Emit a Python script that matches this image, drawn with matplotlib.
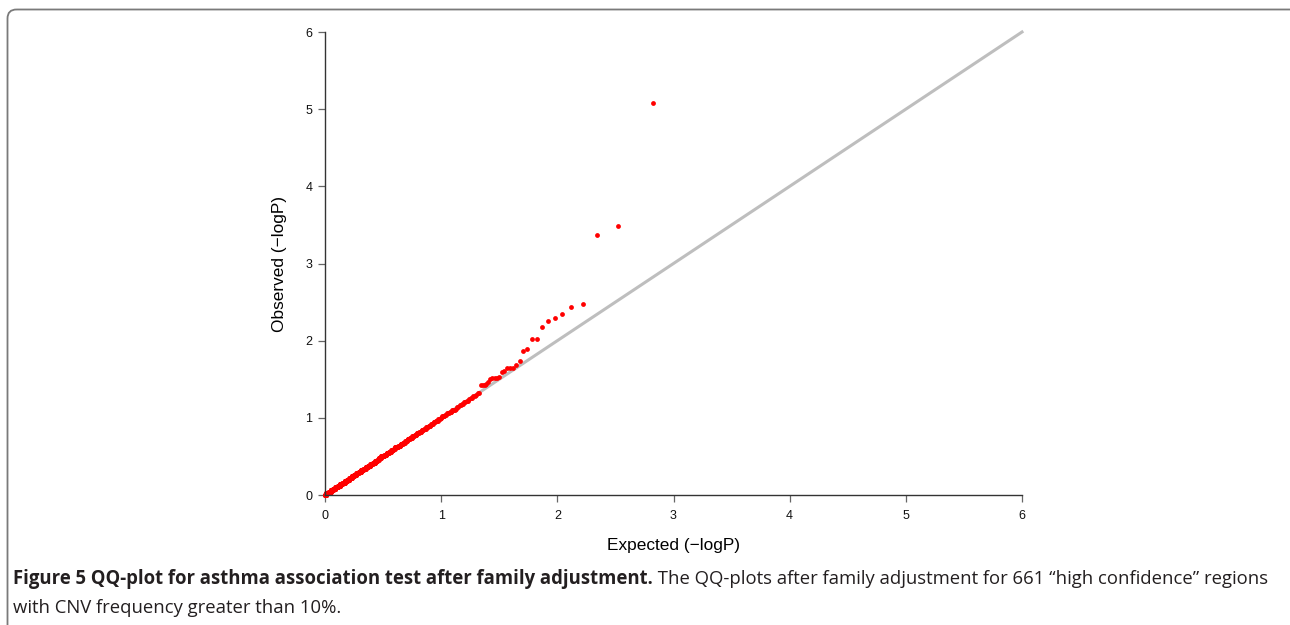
import numpy as np
import matplotlib
matplotlib.use("Agg")
import matplotlib.pyplot as plt
from matplotlib.patches import FancyBboxPatch

# upper tail of the observed -log10(P), ranks 1..30 (largest first)
tail_obs = [5.08, 3.48, 3.37, 2.48, 2.43, 2.35, 2.30, 2.25, 2.18, 2.02,
            2.02, 1.89, 1.87, 1.74, 1.69, 1.65, 1.65, 1.65, 1.61, 1.59,
            1.53, 1.52, 1.51, 1.51, 1.50, 1.46, 1.44, 1.43, 1.42, 1.42]

# bulk of the observed values, binned to 0.02 (value, number of regions)
bulk_levels = [1.32, 1.30, 1.28, 1.26, 1.24, 1.22, 1.20, 1.18, 1.16, 1.14,
               1.12, 1.10, 1.08, 1.06, 1.04, 1.02, 1.00, 0.98, 0.96, 0.94,
               0.92, 0.90, 0.88, 0.86, 0.84, 0.82, 0.80, 0.78, 0.76, 0.74,
               0.72, 0.70, 0.68, 0.66, 0.64, 0.62, 0.60, 0.58, 0.56, 0.54,
               0.52, 0.50, 0.48, 0.46, 0.44, 0.42, 0.40, 0.38, 0.36, 0.34,
               0.32, 0.30, 0.28, 0.26, 0.24, 0.22, 0.20, 0.18, 0.16, 0.14,
               0.12, 0.10, 0.08, 0.06, 0.04, 0.02, 0.00]
bulk_counts = [2, 1, 2, 2, 1, 2, 2, 2, 2, 2,
               1, 4, 3, 3, 2, 4, 2, 3, 4, 3,
               4, 4, 4, 4, 4, 5, 5, 5, 5, 6,
               6, 6, 6, 7, 7, 10, 5, 8, 8, 9,
               9, 14, 10, 6, 11, 12, 12, 13, 13, 14,
               15, 15, 16, 17, 17, 19, 19, 20, 21, 22,
               23, 25, 25, 27, 27, 29, 15]

x_ticks = [0, 1, 2, 3, 4, 5, 6]
y_ticks = [0, 1, 2, 3, 4, 5, 6]

caption_bold = "Figure 5 QQ-plot for asthma association test after family adjustment."
caption_rest = (" The QQ-plots after family adjustment for 661 \u201chigh confidence\u201d regions",
                "with CNV frequency greater than 10%.")

observed = np.concatenate([tail_obs, np.repeat(bulk_levels, bulk_counts)])
n = len(observed)
rank = np.arange(1, n + 1)
expected = -np.log10(rank / (n + 1))

W, H = 1290, 625
fig = plt.figure(figsize=(W / 100, H / 100), dpi=100)

# page layer in pixel units: framed box and caption
bg = fig.add_axes([0, 0, 1, 1], zorder=0)
bg.set_xlim(0, W)
bg.set_ylim(H, 0)
bg.axis("off")
bg.add_patch(FancyBboxPatch((7.5, 9.5), W + 20, H + 40,
                            boxstyle="round,pad=0,rounding_size=9",
                            fc="none", ec="#7a7a7a", lw=1.3))

cap_font = ["Open Sans", "DejaVu Sans"]
cap_col = "#231f20"
x0, line_w = 13, 1251
t1 = bg.text(x0, 579, caption_bold, fontsize=12, fontweight="bold",
             family=cap_font, va="center", ha="left", color=cap_col)
t2 = bg.text(x0, 579, caption_rest[0], fontsize=12,
             family=cap_font, va="center", ha="left", color=cap_col)
t3 = bg.text(x0, 608, caption_rest[1], fontsize=12, family=cap_font,
             va="center", ha="left", color=cap_col)

# size the caption so the first line fills the text column
fig.canvas.draw()
r = fig.canvas.get_renderer()
w12 = t1.get_window_extent(r).width + t2.get_window_extent(r).width
size = 12 * line_w / w12
for t in (t1, t2, t3):
    t.set_fontsize(size)
fig.canvas.draw()
t2.set_x(x0 + t1.get_window_extent(r).width)

# QQ plot
left, right, top, bottom = 325, 1022, 32, 495
ax = fig.add_axes([left / W, 1 - bottom / H, (right - left) / W, (bottom - top) / H],
                  zorder=1)
ax.patch.set_alpha(0)
ax.set_xlim(0, 6)
ax.set_ylim(0, 6)

ax.plot([0, 6], [0, 6], color="#bebebe", lw=2.2, zorder=1, clip_on=False)
ax.scatter(expected, observed, s=12, c="#ff0000", marker="o", lw=0,
           zorder=2, clip_on=False)

for side in ("top", "right"):
    ax.spines[side].set_visible(False)
for side in ("left", "bottom"):
    ax.spines[side].set_color("#333333")
    ax.spines[side].set_linewidth(1.0)
    ax.spines[side].set_bounds(0, 6)

ax.set_xticks(x_ticks)
ax.set_yticks(y_ticks)
ax.tick_params(direction="out", length=5, width=0.9, color="#666666",
               labelsize=9, pad=4, labelcolor="#111111")
ax.tick_params(axis="x", pad=6)
for lab in ax.get_xticklabels() + ax.get_yticklabels():
    lab.set_family(["Liberation Sans", "DejaVu Sans"])

ax.set_xlabel("Expected (\u2212logP)", fontsize=12.4, labelpad=11,
              family=["Liberation Sans", "DejaVu Sans"])
ax.set_ylabel("Observed (\u2212logP)", fontsize=12.4, labelpad=13,
              family=["Liberation Sans", "DejaVu Sans"])

fig.savefig("out.png", dpi=100)
